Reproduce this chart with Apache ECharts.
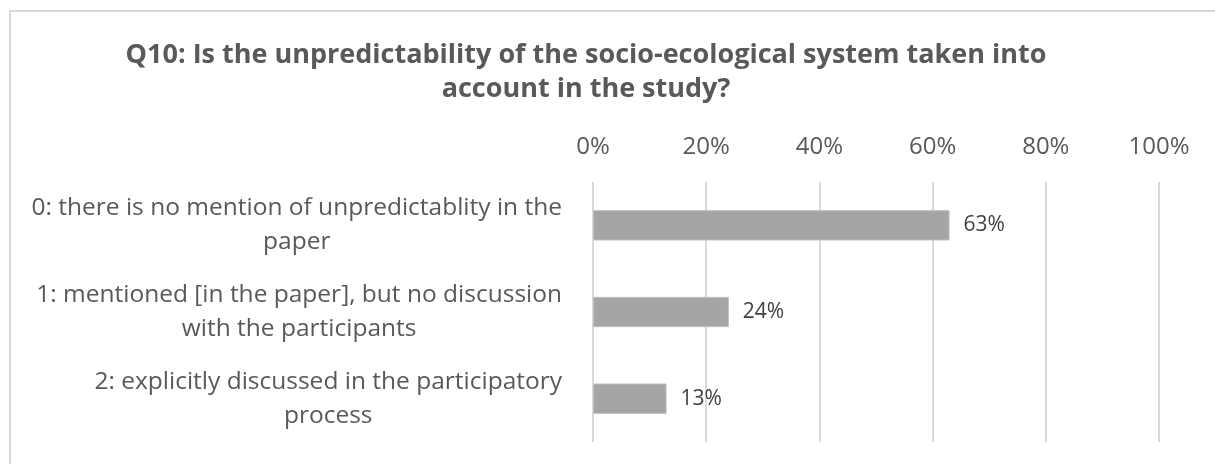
<!DOCTYPE html>
<html>
<head>
<meta charset="utf-8">
<script src="https://cdn.jsdelivr.net/npm/echarts@6/dist/echarts.min.js"></script>
<style>
html,body{margin:0;padding:0;background:#fff;}
#frame{position:absolute;left:9px;top:10px;width:1220px;height:470px;border-left:2px solid #d9d9d9;border-top:2px solid #d9d9d9;box-sizing:border-box;}
#chart{position:absolute;left:0;top:0;width:1215px;height:464px;}
</style>
</head>
<body>
<div id="frame"></div>
<div id="chart"></div>
<script>
const titleLines = ['Q10: Is the unpredictability of the socio-ecological system taken into', 'account in the study?'];
const categories = [
  '0: there is no mention of unpredictablity in the\npaper',
  '1: mentioned [in the paper], but no discussion\nwith the participants',
  '2: explicitly discussed in the participatory\nprocess'
];
const values = [63, 24, 13];
const xTicks = [0, 20, 40, 60, 80, 100];

const FONT = '"Open Sans", "Noto Sans", sans-serif';
const chart = echarts.init(document.getElementById('chart'), null, {renderer: 'canvas'});
chart.setOption({
  animation: false,
  backgroundColor: 'transparent',
  title: {
    text: titleLines.join('\n'),
    left: 586,
    top: 38,
    padding: 0,
    textAlign: 'center',
    textStyle: {fontFamily: FONT, fontWeight: 'bold', fontSize: 27, color: '#595959', lineHeight: 34}
  },
  grid: {left: 593, right: 56, top: 182, bottom: 22, containLabel: false},
  xAxis: {
    type: 'value',
    position: 'top',
    min: xTicks[0],
    max: xTicks[xTicks.length - 1],
    interval: 20,
    axisLine: {show: false},
    axisTick: {show: false},
    splitLine: {lineStyle: {color: '#d9d9d9', width: 2}},
    axisLabel: {formatter: '{value}%', fontFamily: FONT, fontSize: 24, color: '#595959', margin: 23}
  },
  yAxis: {
    type: 'category',
    inverse: true,
    data: categories,
    axisLine: {show: false},
    axisTick: {show: false},
    axisLabel: {
      margin: 31,
      formatter: function (v) { return v.split('\n').map(l => '{c|' + l + '}').join('\n'); },
      rich: {c: {align: 'center', fontFamily: FONT, fontSize: 24.5, color: '#595959', lineHeight: 34}}
    }
  },
  series: [{
    type: 'bar',
    data: values,
    barCategoryGap: '65%',
    itemStyle: {color: '#a5a5a5', borderColor: '#bfbfbf', borderWidth: 1},
    label: {show: true, position: 'right', distance: 14, formatter: '{c}%', fontFamily: FONT, fontSize: 21, color: '#404040'}
  }]
});
</script>
</body>
</html>
